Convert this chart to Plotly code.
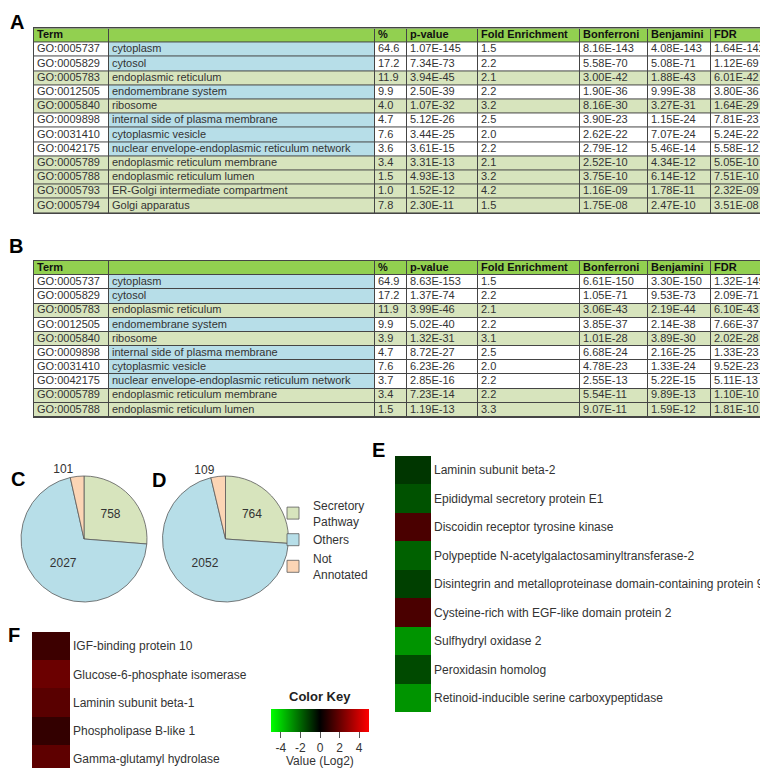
import plotly.graph_objects as go

W = H = 768


def px(x):
    return x / W


def py(y):
    return 1 - y / H


# ---------------- Table data ----------------
header_cols = ["Term", "", "%", "p-value", "Fold Enrichment", "Bonferroni", "Benjamini", "FDR"]

a_go = ["GO:0005737", "GO:0005829", "GO:0005783", "GO:0012505", "GO:0005840", "GO:0009898",
        "GO:0031410", "GO:0042175", "GO:0005789", "GO:0005788", "GO:0005793", "GO:0005794"]
a_term = ["cytoplasm", "cytosol", "endoplasmic reticulum", "endomembrane system", "ribosome",
          "internal side of plasma membrane", "cytoplasmic vesicle",
          "nuclear envelope-endoplasmic reticulum network", "endoplasmic reticulum membrane",
          "endoplasmic reticulum lumen", "ER-Golgi intermediate compartment", "Golgi apparatus"]
a_pct = ["64.6", "17.2", "11.9", "9.9", "4.0", "4.7", "7.6", "3.6", "3.4", "1.5", "1.0", "7.8"]
a_pval = ["1.07E-145", "7.34E-73", "3.94E-45", "2.50E-39", "1.07E-32", "5.12E-26", "3.44E-25",
          "3.61E-15", "3.31E-13", "4.93E-13", "1.52E-12", "2.30E-11"]
a_fold = ["1.5", "2.2", "2.1", "2.2", "3.2", "2.5", "2.0", "2.2", "2.1", "3.2", "4.2", "1.5"]
a_bonf = ["8.16E-143", "5.58E-70", "3.00E-42", "1.90E-36", "8.16E-30", "3.90E-23", "2.62E-22",
          "2.79E-12", "2.52E-10", "3.75E-10", "1.16E-09", "1.75E-08"]
a_benj = ["4.08E-143", "5.08E-71", "1.88E-43", "9.99E-38", "3.27E-31", "1.15E-24", "7.07E-24",
          "5.46E-14", "4.34E-12", "6.14E-12", "1.78E-11", "2.47E-10"]
a_fdr = ["1.64E-142", "1.12E-69", "6.01E-42", "3.80E-36", "1.64E-29", "7.81E-23", "5.24E-22",
         "5.58E-12", "5.05E-10", "7.51E-10", "2.32E-09", "3.51E-08"]
a_class = ["O", "O", "S", "O", "S", "O", "O", "O", "S", "S", "S", "S"]

b_go = ["GO:0005737", "GO:0005829", "GO:0005783", "GO:0012505", "GO:0005840", "GO:0009898",
        "GO:0031410", "GO:0042175", "GO:0005789", "GO:0005788"]
b_term = ["cytoplasm", "cytosol", "endoplasmic reticulum", "endomembrane system", "ribosome",
          "internal side of plasma membrane", "cytoplasmic vesicle",
          "nuclear envelope-endoplasmic reticulum network", "endoplasmic reticulum membrane",
          "endoplasmic reticulum lumen"]
b_pct = ["64.9", "17.2", "11.9", "9.9", "3.9", "4.7", "7.6", "3.7", "3.4", "1.5"]
b_pval = ["8.63E-153", "1.37E-74", "3.99E-46", "5.02E-40", "1.32E-31", "8.72E-27", "6.23E-26",
          "2.85E-16", "7.23E-14", "1.19E-13"]
b_fold = ["1.5", "2.2", "2.1", "2.2", "3.1", "2.5", "2.0", "2.2", "2.2", "3.3"]
b_bonf = ["6.61E-150", "1.05E-71", "3.06E-43", "3.85E-37", "1.01E-28", "6.68E-24", "4.78E-23",
          "2.55E-13", "5.54E-11", "9.07E-11"]
b_benj = ["3.30E-150", "9.53E-73", "2.19E-44", "2.14E-38", "3.89E-30", "2.16E-25", "1.33E-24",
          "5.22E-15", "9.89E-13", "1.59E-12"]
b_fdr = ["1.32E-149", "2.09E-71", "6.10E-43", "7.66E-37", "2.02E-28", "1.33E-23", "9.52E-23",
         "5.11E-13", "1.10E-10", "1.81E-10"]
b_class = ["O", "O", "S", "O", "S", "O", "O", "O", "S", "S"]

# ---------------- Pie data ----------------
pie_labels = ["Secretory<br>Pathway", "Others", "Not<br>Annotated"]
pie_c_values = [758, 2027, 101]
pie_d_values = [764, 2052, 109]

# ---------------- Heatmap data ----------------
e_labels = ["Laminin subunit beta-2", "Epididymal secretory protein E1",
            "Discoidin receptor tyrosine kinase", "Polypeptide N-acetylgalactosaminyltransferase-2",
            "Disintegrin and metalloproteinase domain-containing protein 9",
            "Cysteine-rich with EGF-like domain protein 2", "Sulfhydryl oxidase 2",
            "Peroxidasin homolog", "Retinoid-inducible serine carboxypeptidase"]
e_values = [-1.05, -1.6, 1.45, -1.9, -1.25, 1.45, -2.9, -1.45, -2.9]

f_labels = ["IGF-binding protein 10", "Glucose-6-phosphate isomerase", "Laminin subunit beta-1",
            "Phospholipase B-like 1", "Gamma-glutamyl hydrolase"]
f_values = [1.2, 2.1, 1.75, 1.0, 1.85]

key_ticks = [-4, -2, 0, 2, 4]
key_ticktext = ["-4", "-2", "0", "2", "4"]

# ---------------- styles ----------------
GREEN_H = "#92d050"
GREEN = "#d7e4bd"
BLUE = "#b7dee8"
WHITE = "#ffffff"
GRID = "#454545"
TXT = "#333333"
FONT = "Liberation Sans, Arial, sans-serif"
col_widths = [75, 266, 32, 71, 102, 68, 63, 59]
TEXT_PAD = 3

col_edges = [0]
for w_ in col_widths:
    col_edges.append(col_edges[-1] + w_)

fig = go.Figure()


def add_table(cols, classes, xa, ya):
    ncol = len(cols)
    nrows = len(classes) + 1
    z = [[3] * ncol]
    for cl in classes:
        z.append([1 if cl == "S" else (2 if ci == 1 else 0) for ci in range(ncol)])
    fig.add_trace(go.Heatmap(
        z=z, x=col_edges, y=list(range(nrows + 1)),
        colorscale=[[0, WHITE], [1 / 3, GREEN], [2 / 3, BLUE], [1, GREEN_H]],
        zmin=0, zmax=3, showscale=False, xgap=1, ygap=1, hoverinfo="skip",
        xaxis=xa, yaxis=ya))
    fig.add_trace(go.Scatter(
        x=[col_edges[i] + TEXT_PAD for i in range(ncol)], y=[0.5] * ncol, text=header_cols,
        mode="text", textposition="middle right", cliponaxis=False, hoverinfo="skip",
        showlegend=False, xaxis=xa, yaxis=ya,
        textfont=dict(family=FONT, size=11, color="#111111", weight="bold")))
    xs, ys, ts = [], [], []
    for ci, col in enumerate(cols):
        for ri, val in enumerate(col):
            xs.append(col_edges[ci] + TEXT_PAD)
            ys.append(ri + 1.5)
            ts.append(val)
    fig.add_trace(go.Scatter(
        x=xs, y=ys, text=ts, mode="text", textposition="middle right", cliponaxis=False,
        hoverinfo="skip", showlegend=False, xaxis=xa, yaxis=ya,
        textfont=dict(family=FONT, size=11, color=TXT)))
    return nrows


nA = add_table([a_go, a_term, a_pct, a_pval, a_fold, a_bonf, a_benj, a_fdr], a_class, "x3", "y3")
nB = add_table([b_go, b_term, b_pct, b_pval, b_fold, b_bonf, b_benj, b_fdr], b_class, "x4", "y4")

pie_colors = [GREEN, BLUE, "#fcd5b5"]
for vals, x0, x1, show in [(pie_c_values, 13, 139, True), (pie_d_values, 154, 281, False)]:
    fig.add_trace(go.Pie(
        labels=pie_labels, values=vals, sort=False, direction="clockwise", rotation=0,
        domain=dict(x=[px(x0), px(x1)], y=[py(594), py(468)]),
        marker=dict(colors=pie_colors, line=dict(color="#5a5a5a", width=0.8)),
        texttemplate="%{value}", textposition=["inside", "inside", "outside"],
        insidetextorientation="horizontal",
        textfont=dict(family=FONT, size=12, color=TXT),
        outsidetextfont=dict(family=FONT, size=12, color=TXT),
        showlegend=show, hoverinfo="label+value",
    ))

fig.add_trace(go.Heatmap(z=[[v] for v in e_values], y=e_labels, x=[0],
                         coloraxis="coloraxis", xaxis="x", yaxis="y"))
fig.add_trace(go.Heatmap(z=[[v] for v in f_values], y=f_labels, x=[0],
                         coloraxis="coloraxis", xaxis="x2", yaxis="y2"))

yax = dict(type="category", autorange="reversed", side="right", showgrid=False,
           zeroline=False, showline=False, ticks="", ticklabelstandoff=2,
           tickfont=dict(family=FONT, size=12, color=TXT))
xax = dict(visible=False, showgrid=False, zeroline=False)
tab_x = dict(range=[0, col_edges[-1]], showgrid=False, zeroline=False, showticklabels=False,
             ticks="", showline=True, mirror=True, linecolor=GRID, linewidth=1)


def tab_y(n):
    return dict(range=[n, 0], showgrid=False, zeroline=False, showticklabels=False, ticks="",
                showline=True, mirror=True, linecolor=GRID, linewidth=1)


letters = [("A", 9, 14), ("B", 8, 238), ("C", 10, 471), ("D", 151, 472), ("E", 370, 442), ("F", 6, 627)]
annotations = [dict(text=t, x=px(x), y=py(y), xref="paper", yref="paper", showarrow=False,
                    xanchor="center", yanchor="middle",
                    font=dict(family=FONT, size=20, color="#000000", weight="bold"))
               for t, x, y in letters]
annotations.append(dict(text="Color Key", x=px(312), y=py(688), xref="paper", yref="paper",
                        showarrow=False, xanchor="center", yanchor="middle",
                        font=dict(family=FONT, size=13, color="#222222", weight="bold")))
annotations.append(dict(text="Value (Log2)", x=px(312), y=py(753), xref="paper", yref="paper",
                        showarrow=False, xanchor="center", yanchor="middle",
                        font=dict(family=FONT, size=12, color=TXT)))

fig.update_layout(
    width=W, height=H, margin=dict(l=0, r=0, t=0, b=0),
    paper_bgcolor="white", plot_bgcolor=GRID,
    font=dict(family=FONT, size=12, color=TXT),
    xaxis=dict(domain=[px(387), px(423)], anchor="y", **xax),
    yaxis=dict(domain=[py(704), py(448)], anchor="x", **yax),
    xaxis2=dict(domain=[px(24), px(62)], anchor="y2", **xax),
    yaxis2=dict(domain=[py(765), py(624)], anchor="x2", **yax),
    xaxis3=dict(domain=[px(26), px(762)], anchor="y3", **tab_x),
    yaxis3=dict(domain=[py(205), py(20.4)], anchor="x3", **tab_y(nA)),
    xaxis4=dict(domain=[px(26), px(762)], anchor="y4", **tab_x),
    yaxis4=dict(domain=[py(409), py(253)], anchor="x4", **tab_y(nB)),
    coloraxis=dict(
        colorscale=[[0, "#00ff00"], [0.5, "#000000"], [1, "#ff0000"]], cmin=-5, cmax=5,
        colorbar=dict(orientation="h", x=px(312), xanchor="center", y=py(701), yanchor="top",
                      len=98, lenmode="pixels", thickness=23, thicknessmode="pixels",
                      xpad=0, ypad=0, outlinewidth=0, tickvals=key_ticks,
                      ticktext=key_ticktext,
                      ticks="outside", ticklen=6, tickcolor="#555555",
                      tickfont=dict(family=FONT, size=12, color=TXT)),
    ),
    legend=dict(x=px(265), y=py(483), xanchor="left", yanchor="top",
                font=dict(family=FONT, size=12, color=TXT), bgcolor="rgba(0,0,0,0)",
                traceorder="normal"),
    annotations=annotations,
)

fig.write_html("out.html")
